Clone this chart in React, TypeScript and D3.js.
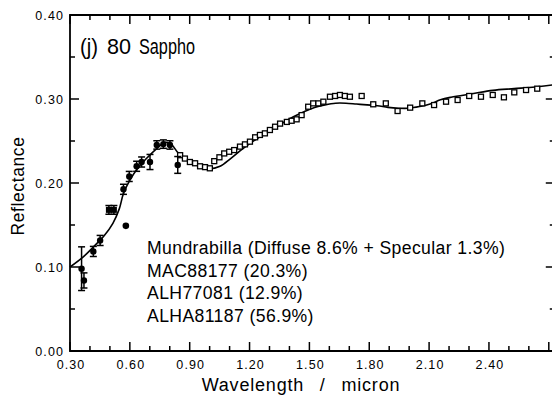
import React from 'react';
import * as d3 from 'd3';

// Filled points with error bars
const ecasWave = [0.358, 0.370, 0.417, 0.451, 0.568, 0.597, 0.634, 0.659, 0.701, 0.735, 0.768, 0.801, 0.840];
const ecasRefl = [0.098, 0.084, 0.1185, 0.1316, 0.1925, 0.2078, 0.2199, 0.225, 0.225, 0.2453, 0.2463, 0.2453, 0.2215];
const ecasErr = [0.026, 0.009, 0.006, 0.006, 0.006, 0.006, 0.006, 0.006, 0.009, 0.005, 0.005, 0.005, 0.010];

// Filled squares with error bars
const sqWave = [0.495, 0.520];
const sqRefl = [0.168, 0.168];
const sqErr = [0.004, 0.004];

// Lone filled dot
const dotWave = [0.580];
const dotRefl = [0.149];

// Open squares
const openWave = [0.852, 0.876, 0.901, 0.927, 0.952, 0.977, 1.001, 1.023, 1.049, 1.073, 1.098, 1.123, 1.152, 1.177, 1.202, 1.228, 1.252, 1.277, 1.302, 1.328, 1.353, 1.387, 1.411, 1.436, 1.461, 1.494, 1.519, 1.545, 1.570, 1.603, 1.629, 1.653, 1.678, 1.703, 1.762, 1.820, 1.883, 1.942, 2.005, 2.066, 2.125, 2.185, 2.243, 2.301, 2.360, 2.419, 2.475, 2.527, 2.586, 2.642];
const openRefl = [0.2331, 0.2291, 0.225, 0.2235, 0.2199, 0.2189, 0.2175, 0.226, 0.2306, 0.2352, 0.2372, 0.2392, 0.2433, 0.246, 0.2492, 0.2544, 0.2572, 0.2591, 0.2631, 0.267, 0.2707, 0.2727, 0.2741, 0.2758, 0.2808, 0.2908, 0.2948, 0.2948, 0.2968, 0.3027, 0.3036, 0.3048, 0.3036, 0.3027, 0.3036, 0.2937, 0.2948, 0.2857, 0.2897, 0.2948, 0.2928, 0.2968, 0.2988, 0.3036, 0.3027, 0.3048, 0.302, 0.3079, 0.3107, 0.3123];

// Model mixture curve
const modelWave = [0.300, 0.368, 0.420, 0.473, 0.515, 0.547, 0.568, 0.599, 0.631, 0.683, 0.736, 0.778, 0.810, 0.841, 0.894, 0.947, 0.999, 1.052, 1.105, 1.157, 1.210, 1.262, 1.315, 1.368, 1.420, 1.473, 1.526, 1.578, 1.631, 1.683, 1.736, 1.789, 1.841, 1.894, 1.947, 1.999, 2.052, 2.105, 2.157, 2.210, 2.315, 2.420, 2.526, 2.631, 2.736];
const modelRefl = [0.100, 0.1124, 0.1245, 0.1377, 0.1519, 0.1692, 0.1875, 0.2027, 0.2149, 0.2291, 0.2413, 0.2484, 0.2453, 0.2362, 0.226, 0.2199, 0.2169, 0.2199, 0.2291, 0.2392, 0.2484, 0.2565, 0.2646, 0.2717, 0.2788, 0.2849, 0.29, 0.293, 0.295, 0.295, 0.294, 0.293, 0.292, 0.29, 0.289, 0.289, 0.291, 0.294, 0.2991, 0.3021, 0.3062, 0.3103, 0.3123, 0.3143, 0.3174];

const xTickLabels = ['0.30', '0.60', '0.90', '1.20', '1.50', '1.80', '2.10', '2.40'];
const yTickLabels = ['0.00', '0.10', '0.20', '0.30', '0.40'];
const legendLines = [
  'Mundrabilla (Diffuse 8.6% + Specular 1.3%)',
  'MAC88177 (20.3%)',
  'ALH77081 (12.9%)',
  'ALHA81187 (56.9%)',
];
const titleParts = ['(j)', '80', 'Sappho'];

const W = 552;
const H = 400;
const FONT = '"Liberation Sans", Arial, Helvetica, sans-serif';

export default function App() {
  const x = d3.scaleLinear().domain([0.3, 2.73]).range([70, 70 + 2.43 * 199.5]);
  const y = d3.scaleLinear().domain([0, 0.4]).range([351, 15]);
  const [x0, x1] = x.range();
  const [y0, y1] = y.range();

  const xMinor = d3.range(0, 25).map((i) => 0.3 + i * 0.1);
  const yMinor = d3.range(0, 9).map((i) => i * 0.05);
  const isMajorX = (i: number) => i % 3 === 0;
  const isMajorY = (i: number) => i % 2 === 0;

  const line = d3
    .line<number>()
    .x((_, i) => x(modelWave[i]))
    .y((d) => y(d))
    .curve(d3.curveCatmullRom.alpha(0.5));

  const cap = 3.5;
  const sq = 5;

  return (
    <svg
      width={W}
      height={H}
      style={{ position: 'absolute', left: 0, top: 0, background: '#fff' }}
      fontFamily={FONT}
    >
      <rect x={0} y={0} width={W} height={H} fill="#fff" />
      {/* frame */}
      <g stroke="#000" strokeWidth={1.8} fill="none">
        <line x1={x0} y1={y0} x2={x1} y2={y0} />
        <line x1={x0} y1={y1} x2={x1} y2={y1} />
        <line x1={x0} y1={y0 + 0.9} x2={x0} y2={y1 - 0.9} />
        <line x1={x1} y1={y0} x2={x1} y2={y1} />
      </g>
      {/* ticks */}
      <g stroke="#000" strokeWidth={1.5}>
        {xMinor.map((v, i) => {
          const len = isMajorX(i) ? 9 : 5;
          return (
            <g key={'xt' + i}>
              <line x1={x(v)} x2={x(v)} y1={y0} y2={y0 - len} />
              <line x1={x(v)} x2={x(v)} y1={y1} y2={y1 + len} />
            </g>
          );
        })}
        {yMinor.map((v, i) => {
          const len = isMajorY(i) ? 9 : 5;
          return (
            <g key={'yt' + i}>
              <line x1={x0} x2={x0 + len} y1={y(v)} y2={y(v)} />
              <line x1={x1} x2={x1 - len} y1={y(v)} y2={y(v)} />
            </g>
          );
        })}
      </g>
      {/* tick labels */}
      <g fontSize={12.5} fill="#000" letterSpacing={1.1}>
        {xTickLabels.map((t) => (
          <text key={'xl' + t} x={x(+t) + 1} y={369} textAnchor="middle">
            {t}
          </text>
        ))}
        {yTickLabels.map((t) => (
          <text key={'yl' + t} x={64} y={y(+t) + 4.5} textAnchor="end">
            {t}
          </text>
        ))}
      </g>
      {/* axis titles */}
      <text
        x={301}
        y={391}
        textAnchor="middle"
        fontSize={18}
        letterSpacing={0.8}
        wordSpacing={10}
      >
        Wavelength / micron
      </text>
      <text
        transform={`translate(24,186) rotate(-90)`}
        textAnchor="middle"
        fontSize={17.5}
        letterSpacing={0.6}
      >
        Reflectance
      </text>
      {/* title */}
      <g fontSize={22.5}>
        <text x={80} y={54} textLength={18} lengthAdjust="spacingAndGlyphs">{titleParts[0]}</text>
        <text x={107} y={54} textLength={24} lengthAdjust="spacingAndGlyphs">{titleParts[1]}</text>
        <text x={139} y={54} textLength={56} lengthAdjust="spacingAndGlyphs">{titleParts[2]}</text>
      </g>
      {/* legend text */}
      <g fontSize={17.6} letterSpacing={0.4}>
        {legendLines.map((t, i) => (
          <text key={'lg' + i} x={147} y={254 + i * 22.6}>
            {t}
          </text>
        ))}
      </g>
      {/* model curve */}
      <path d={line(modelRefl) || ''} fill="none" stroke="#000" strokeWidth={1.6} />
      {/* open squares */}
      <g fill="#fff" stroke="#000" strokeWidth={1.3}>
        {openWave.map((w, i) => (
          <rect key={'os' + i} x={x(w) - sq / 2} y={y(openRefl[i]) - sq / 2} width={sq} height={sq} />
        ))}
      </g>
      {/* error-bar points */}
      <g stroke="#000" strokeWidth={1.5} fill="#000">
        {ecasWave.map((w, i) => {
          const cx = x(w);
          const top = y(ecasRefl[i] + ecasErr[i]);
          const bot = y(ecasRefl[i] - ecasErr[i]);
          return (
            <g key={'ec' + i}>
              <line x1={cx} x2={cx} y1={top} y2={bot} />
              <line x1={cx - cap} x2={cx + cap} y1={top} y2={top} />
              <line x1={cx - cap} x2={cx + cap} y1={bot} y2={bot} />
              <circle cx={cx} cy={y(ecasRefl[i])} r={3.2} stroke="none" />
            </g>
          );
        })}
        {sqWave.map((w, i) => {
          const cx = x(w);
          const top = y(sqRefl[i] + sqErr[i]);
          const bot = y(sqRefl[i] - sqErr[i]);
          return (
            <g key={'sq' + i}>
              <line x1={cx} x2={cx} y1={top - 1} y2={bot + 1} />
              <line x1={cx - cap} x2={cx + cap} y1={top - 1} y2={top - 1} />
              <line x1={cx - cap} x2={cx + cap} y1={bot + 1} y2={bot + 1} />
              <rect x={cx - 3} y={y(sqRefl[i]) - 3} width={6} height={6} stroke="none" />
            </g>
          );
        })}
        {dotWave.map((w, i) => (
          <circle key={'dt' + i} cx={x(w)} cy={y(dotRefl[i])} r={3.3} stroke="none" />
        ))}
      </g>
    </svg>
  );
}
